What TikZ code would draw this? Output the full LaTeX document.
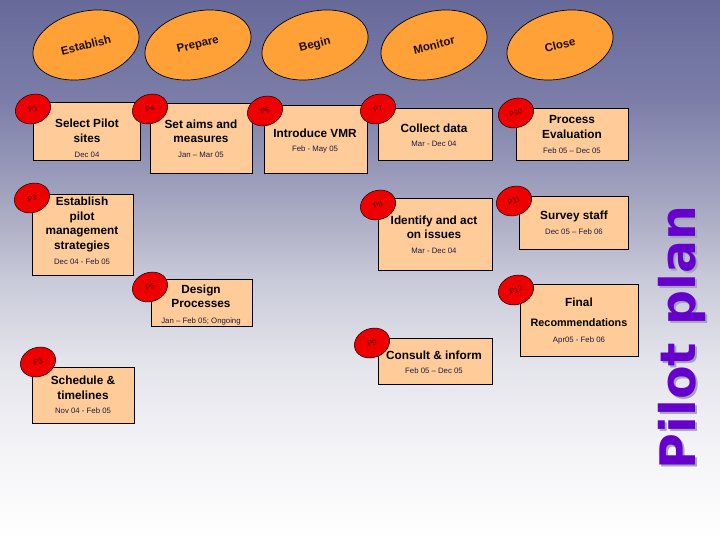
\documentclass[tikz,border=0pt]{standalone}
\usepackage{fontspec}
\setmainfont{Liberation Sans}
\newfontfamily\pilotfont{DejaVu Sans}
\usetikzlibrary{shapes.geometric}
\definecolor{bgA}{HTML}{676999}
\definecolor{bgB}{HTML}{7C7EA9}
\definecolor{bgC}{HTML}{A4A5C0}
\definecolor{bgD}{HTML}{C9CAD9}
\definecolor{bgE}{HTML}{E3E3EB}
\definecolor{bgF}{HTML}{F4F4F7}
\definecolor{bgG}{HTML}{FFFFFF}
\definecolor{phasefill}{HTML}{FFA136}
\definecolor{boxfill}{HTML}{FFCC99}
\definecolor{tagred}{HTML}{EE0000}
\definecolor{tagtext}{HTML}{4A0000}
\definecolor{datetext}{HTML}{1A1A40}
\definecolor{pilotpurple}{HTML}{6600CC}
\definecolor{pilotshadow}{HTML}{A3A3B5}
\begin{document}
\begin{tikzpicture}[x=1pt,y=-1pt,
 phase/.style={ellipse, draw=black, line width=0.7pt, fill=phasefill, minimum width=108pt, minimum height=67pt, inner sep=0pt, rotate=14, font=\bfseries\fontsize{11.5}{14}\selectfont, text={rgb,255:red,30;green,15;blue,10}},
 box/.style={rectangle, draw=black, line width=0.8pt, fill=boxfill, inner sep=0pt},
 tag/.style={ellipse, draw=black, line width=0.5pt, fill=tagred, minimum width=36pt, minimum height=29pt, inner sep=0pt, rotate=20, font=\fontsize{7.5}{8}\selectfont, text=tagtext},
 ttl/.style={align=center, font=\bfseries\fontsize{11.8}{14.5}\selectfont, inner sep=0pt},
 dt/.style={font=\fontsize{7.8}{9}\selectfont, inner sep=0pt, text=datetext},
]
\useasboundingbox (0,0) rectangle (720,540);
% background
\shade[top color=bgA, bottom color=bgB] (0,0) rectangle (720,100.5);
\shade[top color=bgB, bottom color=bgC] (0,100) rectangle (720,200.5);
\shade[top color=bgC, bottom color=bgD] (0,200) rectangle (720,280.5);
\shade[top color=bgD, bottom color=bgE] (0,280) rectangle (720,360.5);
\shade[top color=bgE, bottom color=bgF] (0,360) rectangle (720,450.5);
\shade[top color=bgF, bottom color=bgG] (0,450) rectangle (720,540);

% phases
\node[phase] (ph1) at (86,45) {Establish};
\node[phase] (ph2) at (198,45) {Prepare};
\node[phase] (ph3) at (315,45) {Begin};
\node[phase] (ph4) at (434,45) {Monitor};
\node[phase] (ph5) at (560,45) {Close};

% boxes
\node[box, minimum width=107pt, minimum height=58pt] (b1) at (86.5,131) {};
\node[box, minimum width=102pt, minimum height=70pt] (b4) at (201,138) {};
\node[box, minimum width=103pt, minimum height=68pt] (b6) at (315.5,139) {};
\node[box, minimum width=114pt, minimum height=52pt] (b7) at (435,134) {};
\node[box, minimum width=112pt, minimum height=52pt] (b10) at (572,134) {};
\node[box, minimum width=101pt, minimum height=81pt] (b2) at (82.5,234.5) {};
\node[box, minimum width=114pt, minimum height=72pt] (b8) at (435,234) {};
\node[box, minimum width=109pt, minimum height=53pt] (b11) at (573.5,222.5) {};
\node[box, minimum width=101pt, minimum height=47pt] (b5) at (201.5,302.5) {};
\node[box, minimum width=118pt, minimum height=72pt] (b12) at (579,320) {};
\node[box, minimum width=114pt, minimum height=46pt] (b9) at (435,361) {};
\node[box, minimum width=102pt, minimum height=56pt] (b3) at (83,395) {};

% titles
\node[ttl] (t1) at (87,131) {Select Pilot\\sites};
\node[ttl] (t4) at (201,131.5) {Set aims and\\measures};
\node[ttl] (t6) at (315,133) {Introduce VMR};
\node[ttl] (t7) at (434,128) {Collect data};
\node[ttl] (t10) at (572,127) {Process\\Evaluation};
\node[ttl] (t2) at (82,224.5) {Establish\\pilot\\management\\strategies};
\node[ttl] (t8) at (434,227.5) {Identify and act\\on issues};
\node[ttl] (t11) at (574,216) {Survey staff};
\node[ttl] (t5) at (201,296.5) {Design\\Processes};
\node[ttl] (t12) at (579,302) {Final};
\node[ttl, font=\bfseries\fontsize{10.8}{13}\selectfont] (t12b) at (579,323) {Recommendations};
\node[ttl] (t9) at (434,355) {Consult \& inform};
\node[ttl] (t3) at (83,388) {Schedule \&\\timelines};

% dates
\node[dt] (d1) at (87,155) {Dec 04};
\node[dt] (d4) at (201,155) {Jan -- Mar 05};
\node[dt] (d6) at (315,149) {Feb - May 05};
\node[dt] (d7) at (434,144) {Mar - Dec 04};
\node[dt] (d10) at (572,151) {Feb 05 -- Dec 05};
\node[dt] (d2) at (82,262) {Dec 04 - Feb 05};
\node[dt] (d8) at (434,251) {Mar - Dec 04};
\node[dt] (d11) at (574,232) {Dec 05 -- Feb 06};
\node[dt] (d5) at (201,321) {Jan -- Feb 05; Ongoing};
\node[dt] (d12) at (579,340) {Apr05 - Feb 06};
\node[dt] (d9) at (434,371) {Feb 05 -- Dec 05};
\node[dt] (d3) at (83,411) {Nov 04 - Feb 05};

% tags
\node[tag] (p1) at (33,109) {P1};
\node[tag] (p4) at (150,109) {P4};
\node[tag] (p6) at (265,111) {P6};
\node[tag] (p7) at (378,109) {P7};
\node[tag] (p10) at (516,113) {P10};
\node[tag] (p2) at (32,198) {P2};
\node[tag] (p8) at (378,205) {P8};
\node[tag] (p11) at (514,201) {P11};
\node[tag] (p5) at (150,287) {P5};
\node[tag] (p12) at (516,290) {P12};
\node[tag] (p9) at (372,343) {P9};
\node[tag] (p3) at (38,362) {P3};

% side title
\node[rotate=90, inner sep=0pt, text=pilotshadow, font=\pilotfont\bfseries\fontsize{49}{50}\selectfont] (pilotsh) at (684,339.5) {Pilot plan};
\node[rotate=90, inner sep=0pt, text=pilotpurple, font=\pilotfont\bfseries\fontsize{49}{50}\selectfont] (pilot) at (682,337.5) {Pilot plan};
\end{tikzpicture}
\end{document}
